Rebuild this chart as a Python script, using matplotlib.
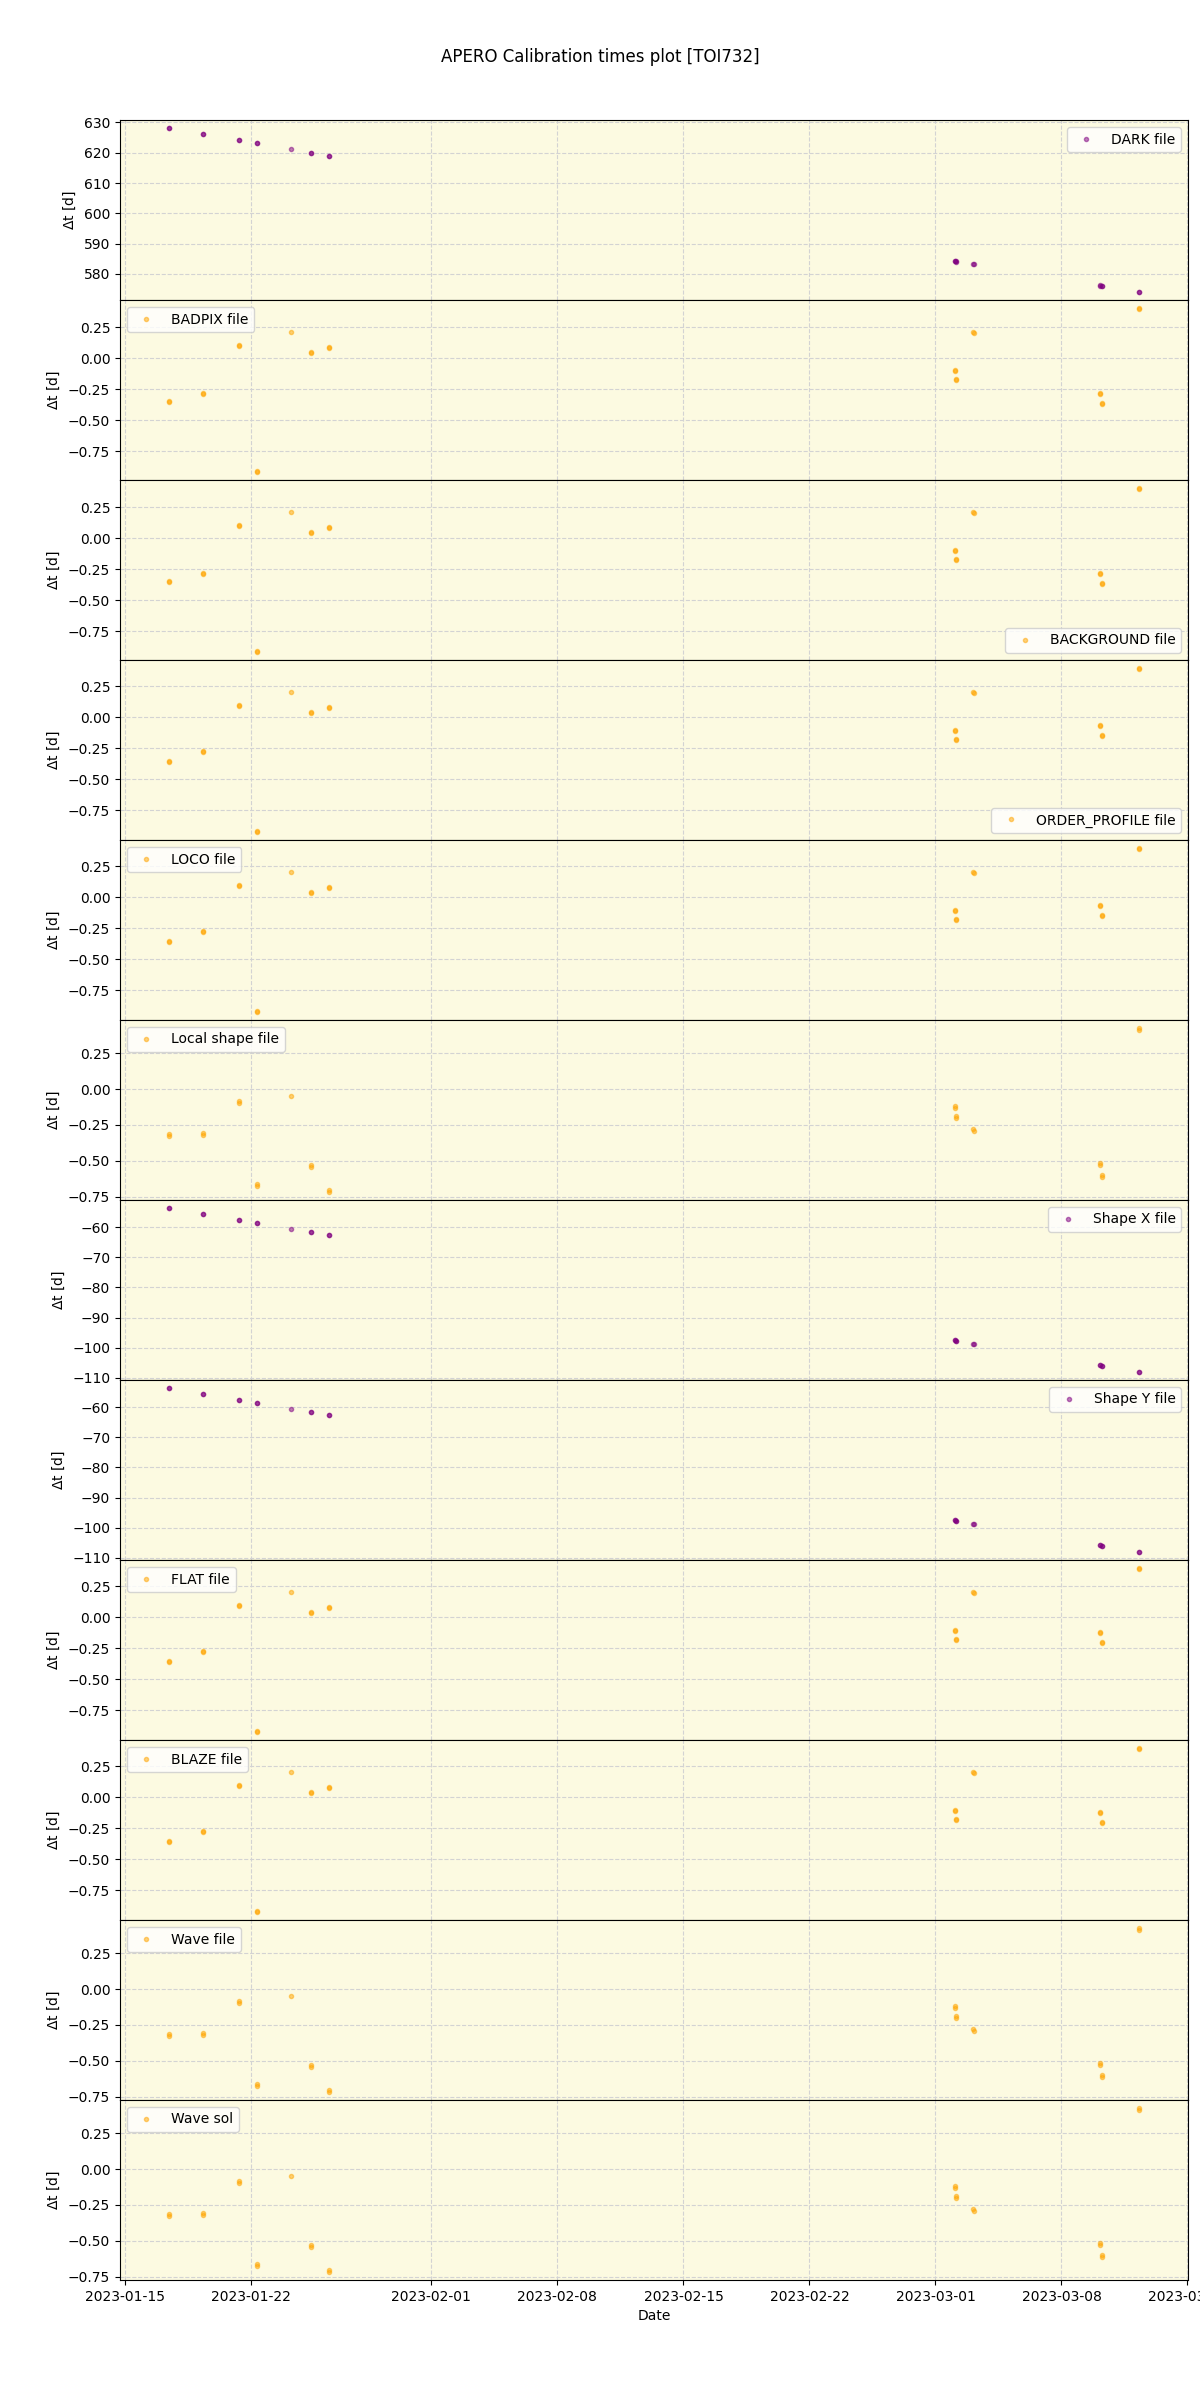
import matplotlib
matplotlib.use("Agg")
import matplotlib.pyplot as plt
import pandas as pd

# observation times (x values), shared by all panels
obs_times = [
    '2023-01-17 09:30', '2023-01-17 09:45',
    '2023-01-19 07:50', '2023-01-19 08:05',
    '2023-01-21 07:35', '2023-01-21 07:50',
    '2023-01-22 07:35', '2023-01-22 07:50',
    '2023-01-24 05:00',
    '2023-01-25 07:20', '2023-01-25 07:35',
    '2023-01-26 07:20', '2023-01-26 07:35',
    '2023-03-02 02:00', '2023-03-02 02:15',
    '2023-03-02 03:45', '2023-03-02 04:00',
    '2023-03-03 02:35', '2023-03-03 02:50',
    '2023-03-10 03:45', '2023-03-10 04:00',
    '2023-03-10 05:40', '2023-03-10 05:55',
    '2023-03-12 07:45', '2023-03-12 08:00',
]

dt_dark = [628.1, 628.1, 626.1, 626.1, 624.2, 624.1, 623.2, 623.1, 621.2,
           620.0, 620.0, 619.0, 619.0, 584.3, 584.2, 584.2, 584.1,
           583.2, 583.2, 576.2, 576.1, 576.1, 576.0, 574.1, 574.1]

dt_badpix = [-0.342, -0.352, -0.280, -0.290, 0.110, 0.100, -0.906, -0.916, 0.210,
             0.052, 0.042, 0.094, 0.084, -0.092, -0.102, -0.164, -0.174,
             0.215, 0.205, -0.277, -0.287, -0.358, -0.368, 0.403, 0.393]

dt_background = [-0.342, -0.352, -0.280, -0.290, 0.110, 0.100, -0.906, -0.916, 0.210,
                 0.052, 0.042, 0.094, 0.084, -0.092, -0.102, -0.164, -0.174,
                 0.215, 0.205, -0.277, -0.287, -0.358, -0.368, 0.403, 0.393]

dt_order_profile = [-0.350, -0.360, -0.269, -0.279, 0.102, 0.092, -0.914, -0.924, 0.202,
                    0.045, 0.035, 0.086, 0.076, -0.100, -0.110, -0.172, -0.182,
                    0.207, 0.197, -0.060, -0.070, -0.140, -0.150, 0.395, 0.385]

dt_loco = [-0.350, -0.360, -0.269, -0.279, 0.102, 0.092, -0.914, -0.924, 0.202,
           0.045, 0.035, 0.086, 0.076, -0.100, -0.110, -0.172, -0.182,
           0.207, 0.197, -0.060, -0.070, -0.140, -0.150, 0.395, 0.385]

dt_local_shape = [-0.316, -0.326, -0.309, -0.319, -0.086, -0.096, -0.665, -0.675, -0.049,
                  -0.532, -0.542, -0.707, -0.717, -0.121, -0.131, -0.190, -0.200,
                  -0.281, -0.291, -0.518, -0.528, -0.602, -0.612, 0.426, 0.416]

dt_shape_x = [-53.7, -53.7, -55.7, -55.7, -57.7, -57.7, -58.7, -58.7, -60.7,
              -61.7, -61.7, -62.6, -62.7, -97.6, -97.6, -97.7, -97.7,
              -98.7, -98.7, -105.9, -105.9, -106.0, -106.0, -108.0, -108.0]

dt_shape_y = [-53.7, -53.7, -55.7, -55.7, -57.7, -57.7, -58.7, -58.7, -60.7,
              -61.7, -61.7, -62.6, -62.7, -97.6, -97.6, -97.7, -97.7,
              -98.7, -98.7, -105.9, -105.9, -106.0, -106.0, -108.0, -108.0]

dt_flat = [-0.350, -0.360, -0.269, -0.279, 0.102, 0.092, -0.914, -0.924, 0.202,
           0.045, 0.035, 0.086, 0.076, -0.100, -0.110, -0.172, -0.182,
           0.207, 0.197, -0.116, -0.126, -0.197, -0.207, 0.395, 0.385]

dt_blaze = [-0.350, -0.360, -0.269, -0.279, 0.102, 0.092, -0.914, -0.924, 0.202,
            0.045, 0.035, 0.086, 0.076, -0.100, -0.110, -0.172, -0.182,
            0.207, 0.197, -0.116, -0.126, -0.197, -0.207, 0.395, 0.385]

dt_wave_file = [-0.316, -0.326, -0.309, -0.319, -0.086, -0.096, -0.665, -0.675, -0.049,
                -0.532, -0.542, -0.707, -0.717, -0.121, -0.131, -0.190, -0.200,
                -0.281, -0.291, -0.518, -0.528, -0.602, -0.612, 0.426, 0.416]

dt_wave_sol = [-0.316, -0.326, -0.309, -0.319, -0.086, -0.096, -0.665, -0.675, -0.049,
               -0.532, -0.542, -0.707, -0.717, -0.121, -0.131, -0.190, -0.200,
               -0.281, -0.291, -0.518, -0.528, -0.602, -0.612, 0.426, 0.416]

labels = ['DARK file', 'BADPIX file', 'BACKGROUND file', 'ORDER_PROFILE file',
          'LOCO file', 'Local shape file', 'Shape X file', 'Shape Y file',
          'FLAT file', 'BLAZE file', 'Wave file', 'Wave sol']
series = [dt_dark, dt_badpix, dt_background, dt_order_profile, dt_loco,
          dt_local_shape, dt_shape_x, dt_shape_y, dt_flat, dt_blaze,
          dt_wave_file, dt_wave_sol]
colors = ['purple', 'orange', 'orange', 'orange', 'orange', 'orange',
          'purple', 'purple', 'orange', 'orange', 'orange', 'orange']
legend_locs = ['upper right', 'upper left', 'lower right', 'lower right',
               'upper left', 'upper left', 'upper right', 'upper right',
               'upper left', 'upper left', 'upper left', 'upper left']

x = pd.to_datetime(obs_times)

fig, axes = plt.subplots(12, 1, figsize=(12, 24), dpi=100, sharex=True)
fig.subplots_adjust(hspace=0, left=0.10, right=0.99, top=0.95, bottom=0.05)

for ax, lab, ys, col, loc in zip(axes, labels, series, colors, legend_locs):
    ax.set_facecolor('#fcfae1')
    ax.plot(x, ys, '.', color=col, alpha=0.5, label=lab)
    ax.grid(True, linestyle='--', color='lightgrey', linewidth=0.8)
    ax.set_axisbelow(True)
    ax.set_ylabel(r'$\Delta$t [d]')
    ax.legend(loc=loc)

axes[-1].set_xlabel('Date')
fig.suptitle('APERO Calibration times plot [TOI732]')

fig.savefig('out.png', dpi=100)
